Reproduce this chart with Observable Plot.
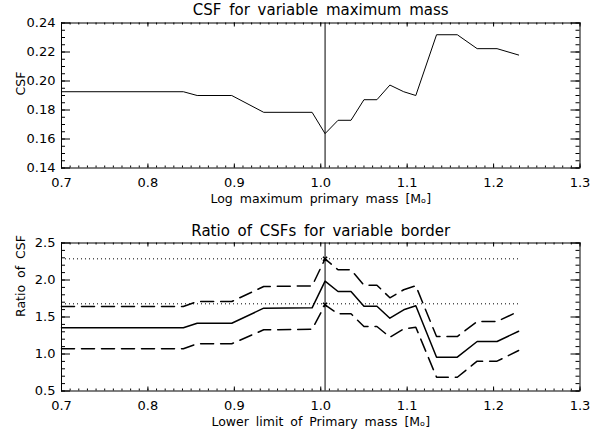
<!DOCTYPE html>
<html><head><meta charset="utf-8">
<script src="https://cdn.jsdelivr.net/npm/d3@7"></script>
<script src="https://cdn.jsdelivr.net/npm/@observablehq/plot@0.6"></script>
<style>
body{margin:0;background:#fff;}
#c{width:590px;height:436px;overflow:hidden;}
#c svg{display:block;}
</style>
</head><body><div id="c"></div>
<script>
// ---- data ----
const xGrid   = [0.700, 0.841, 0.857, 0.897, 0.934, 0.990, 1.005, 1.020, 1.035, 1.050, 1.065, 1.080, 1.096, 1.110, 1.134, 1.158, 1.181, 1.204, 1.229];
const csf     = [0.1926,0.1926,0.1900,0.1900,0.1784,0.1784,0.1637,0.1729,0.1729,0.1871,0.1871,0.1972,0.1926,0.1900,0.2319,0.2319,0.2223,0.2223,0.2179];
const ratio   = [1.354, 1.354, 1.416, 1.416, 1.619, 1.624, 1.984, 1.845, 1.845, 1.646, 1.646, 1.484, 1.597, 1.651, 0.957, 0.957, 1.169, 1.169, 1.308];
const ratioHi = [1.642, 1.642, 1.709, 1.709, 1.912, 1.920, 2.286, 2.138, 2.138, 1.930, 1.930, 1.759, 1.868, 1.922, 1.236, 1.236, 1.439, 1.439, 1.578];
const ratioLo = [1.070, 1.070, 1.138, 1.138, 1.327, 1.335, 1.665, 1.543, 1.543, 1.372, 1.372, 1.227, 1.340, 1.362, 0.686, 0.686, 0.903, 0.903, 1.047];
const refLevels = [2.286, 1.678];
const borderX = 1.005;

const xTicks = [0.7, 0.8, 0.9, 1.0, 1.1, 1.2, 1.3];
const xMinor = d3.range(70, 131).map(d => d / 100);
const yTicksTop = [0.14, 0.16, 0.18, 0.20, 0.22, 0.24];
const yMinorTop = d3.range(28, 49).map(d => d / 200);
const yTicksBot = [0.5, 1.0, 1.5, 2.0, 2.5];
const yMinorBot = d3.range(5, 26).map(d => d / 10);

const titleTop = "CSF for variable maximum mass";
const titleBot = "Ratio of CSFs for variable border";
const xLabelTop = "Log maximum primary mass [Mₒ]";
const xLabelBot = "Lower limit of Primary mass [Mₒ]";
const yLabelTop = "CSF";
const yLabelBot = "Ratio of CSF";

const W = 590, ML = 61, MR = 10.5;
const FONT = "DejaVu Sans, sans-serif";

function frameMarks(h, w, yMajor, yMinor, fmt) {
  return [
    Plot.frame({stroke: "black", strokeWidth: 1}),
    Plot.tickX(xTicks, {x: d => d, insetTop: h - 4, stroke: "black"}),
    Plot.tickX(xTicks, {x: d => d, insetBottom: h - 4, stroke: "black"}),
    Plot.tickX(xMinor, {x: d => d, insetTop: h - 2, stroke: "black"}),
    Plot.tickX(xMinor, {x: d => d, insetBottom: h - 2, stroke: "black"}),
    Plot.tickY(yMajor, {y: d => d, insetRight: w - 9, stroke: "black"}),
    Plot.tickY(yMajor, {y: d => d, insetLeft: w - 9, stroke: "black"}),
    Plot.tickY(yMinor, {y: d => d, insetRight: w - 4, stroke: "black"}),
    Plot.tickY(yMinor, {y: d => d, insetLeft: w - 4, stroke: "black"}),
    Plot.axisX(xTicks, {tickSize: 0, tickPadding: 10, tickFormat: d3.format(".1f"), label: null, fontSize: 13}),
    Plot.axisY(yMajor, {tickSize: 0, tickPadding: 6, tickFormat: fmt, label: null, fontSize: 13})
  ];
}

function textMarks(h, title, xl, yl, titleDy) {
  return [
    Plot.text([title], {text: d => d, frameAnchor: "top", lineAnchor: "middle", dy: titleDy, fontSize: 15, fill: "black"}),
    Plot.text([xl], {text: d => d, frameAnchor: "bottom", lineAnchor: "middle", dy: 31, fontSize: 12.5, fill: "black"}),
    Plot.text([yl], {text: d => d, frameAnchor: "left", lineAnchor: "middle", dx: -41, rotate: -90, fontSize: 12.5, fill: "black"})
  ];
}

const topMT = 22.5, topMB = 42.5, topH = 210;
const hTop = topH - topMT - topMB, wPlot = W - ML - MR;
const topPlot = Plot.plot({
  width: W, height: topH,
  marginLeft: ML, marginRight: MR, marginTop: topMT, marginBottom: topMB,
  style: {fontFamily: FONT, background: "white", color: "black", wordSpacing: "3px"},
  x: {domain: [0.7, 1.3]},
  y: {domain: [0.14, 0.24]},
  marks: [
    ...frameMarks(hTop, wPlot, yTicksTop, yMinorTop, d3.format(".2f")),
    Plot.ruleX([borderX], {stroke: "black"}),
    Plot.line(xGrid.map((x, i) => ({x, y: csf[i]})), {x: "x", y: "y", stroke: "black", strokeWidth: 1}),
    ...textMarks(hTop, titleTop, xLabelTop, yLabelTop, -12.5)
  ]
});

const botMT = 32.5, botMB = 45.5, botH = 226;
const hBot = botH - botMT - botMB;
const botPlot = Plot.plot({
  width: W, height: botH,
  marginLeft: ML, marginRight: MR, marginTop: botMT, marginBottom: botMB,
  style: {fontFamily: FONT, background: "white", color: "black", wordSpacing: "3px"},
  x: {domain: [0.7, 1.3]},
  y: {domain: [0.5, 2.5]},
  marks: [
    ...frameMarks(hBot, wPlot, yTicksBot, yMinorBot, d3.format(".1f")),
    Plot.ruleX([borderX], {stroke: "black"}),
    Plot.ruleY(refLevels, {x1: xGrid[0], x2: xGrid[xGrid.length - 1], stroke: "black", strokeDasharray: "1,3"}),
    Plot.line(xGrid.map((x, i) => ({x, y: ratioHi[i]})), {x: "x", y: "y", stroke: "black", strokeDasharray: "13,7"}),
    Plot.line(xGrid.map((x, i) => ({x, y: ratioLo[i]})), {x: "x", y: "y", stroke: "black", strokeDasharray: "13,7"}),
    Plot.line(xGrid.map((x, i) => ({x, y: ratio[i]})), {x: "x", y: "y", stroke: "black"}),
    Plot.dot([{x: borderX, y: ratioHi[6]}, {x: borderX, y: ratioLo[6]}], {x: "x", y: "y", symbol: "times", r: 2, stroke: "black"}),
    ...textMarks(hBot, titleBot, xLabelBot, yLabelBot, -11.5)
  ]
});

document.getElementById("c").append(topPlot, botPlot);
</script>
</body></html>
